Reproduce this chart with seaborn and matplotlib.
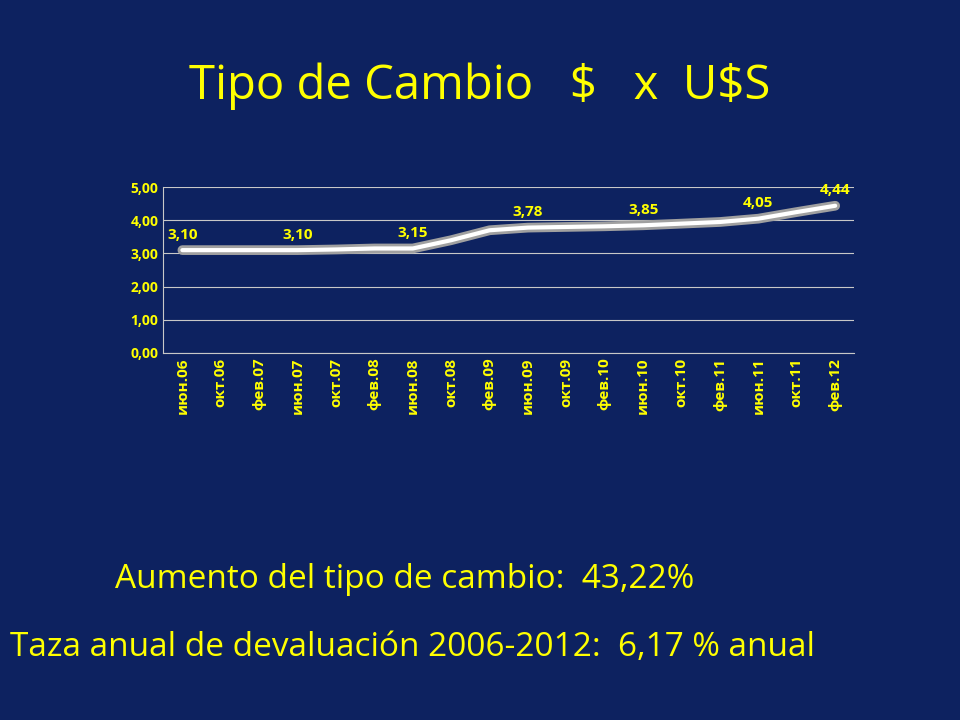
import matplotlib
matplotlib.use("Agg")
import matplotlib.pyplot as plt
import seaborn as sns
import pandas as pd

months = ["июн.06", "окт.06", "фев.07", "июн.07", "окт.07", "фев.08", "июн.08", "окт.08", "фев.09",
          "июн.09", "окт.09", "фев.10", "июн.10", "окт.10", "фев.11", "июн.11", "окт.11", "фев.12"]
rate = [3.10, 3.10, 3.10, 3.10, 3.12, 3.15, 3.15, 3.40, 3.70,
        3.78, 3.80, 3.82, 3.85, 3.90, 3.95, 4.05, 4.25, 4.44]
label_idx = [0, 3, 6, 9, 12, 15, 17]
yticks = [0, 1, 2, 3, 4, 5]

bg = "#0d2260"
yellow = "#ffff00"

sns.set_style("dark")
plt.rcParams["font.family"] = ["Open Sans", "DejaVu Sans"]
plt.rcParams["text.parse_math"] = False

df = pd.DataFrame({"month": months, "rate": rate, "pos": range(len(months))})

fig = plt.figure(figsize=(9.6, 7.2), dpi=100, facecolor=bg)
ax = fig.add_axes([0.17, 0.51, 0.72, 0.23])
ax.set_facecolor(bg)

for y in yticks:
    ax.axhline(y, color="#c8c8c8", lw=0.8, zorder=0)

sns.lineplot(data=df, x="pos", y="rate", ax=ax, color="#a0a0a0", lw=7, zorder=2)
sns.lineplot(data=df, x="pos", y="rate", ax=ax, color="white", lw=3, zorder=3)

for i in label_idx:
    ax.text(df["pos"][i], rate[i] + 0.25, f"{rate[i]:.2f}".replace(".", ","),
            color=yellow, fontsize=11, fontweight="bold", ha="center", va="bottom")

ax.set_xlim(-0.5, len(months) - 0.5)
ax.set_ylim(0, 5)
ax.set_yticks(yticks)
ax.set_yticklabels([f"{v:.2f}".replace(".", ",") for v in yticks], color=yellow,
                   fontsize=10, fontweight="bold")
ax.set_xticks(df["pos"])
ax.set_xticklabels(months, rotation=90, color=yellow, fontsize=11, fontweight="bold")
ax.set_xlabel("")
ax.set_ylabel("")
ax.tick_params(length=0)
for s in ax.spines.values():
    s.set_visible(False)
ax.spines["left"].set_visible(True)
ax.spines["left"].set_color("#c8c8c8")
ax.spines["bottom"].set_visible(True)
ax.spines["bottom"].set_color("#c8c8c8")

fig.text(0.5, 0.88, "Tipo de Cambio   $   x  U$S", color=yellow, fontsize=34, ha="center", va="center")
fig.text(0.12, 0.195, "Aumento del tipo de cambio:  43,22%", color=yellow, fontsize=24, va="center")
fig.text(0.01, 0.10, "Taza anual de devaluación 2006-2012:  6,17 % anual", color=yellow, fontsize=24, va="center")

fig.savefig("out.png", facecolor=bg)
